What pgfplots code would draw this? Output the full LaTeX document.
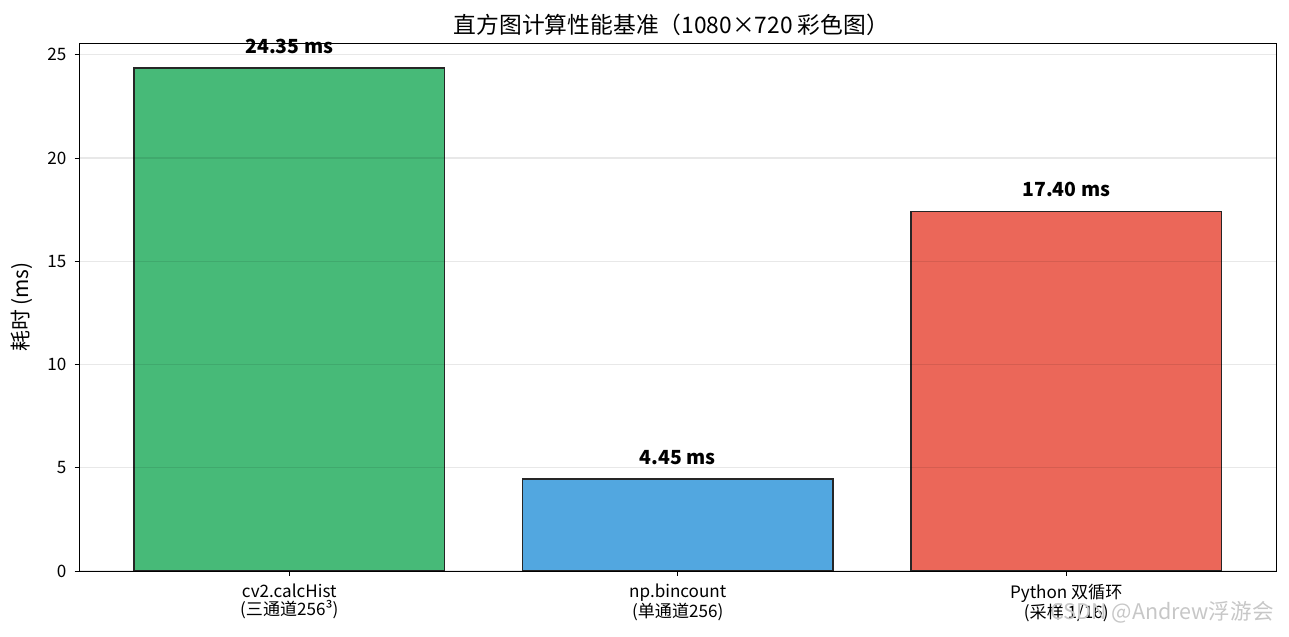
\documentclass[border=0pt]{standalone}
\usepackage{fontspec}
\setmainfont{Noto Sans CJK SC}
\usepackage{pgfplots}
\pgfplotsset{compat=1.18}
\definecolor{cg}{RGB}{71,186,120}
\definecolor{cb}{RGB}{82,167,224}
\definecolor{cr}{RGB}{235,103,89}
\begin{document}
\begin{tikzpicture}
\path[use as bounding box] (-57.24pt,-46.8pt) rectangle (870.84pt,411.12pt);
\begin{axis}[at={(0,0)}, anchor=south west,
  width=861.48pt, height=380.16pt, scale only axis,
  xmin=-0.54, xmax=2.54, ymin=0, ymax=25.5675,
  ytick={0,5,10,15,20,25},
  xtick={0,1,2},
  xticklabels={{cv2.calcHist\\(三通道256³)},{np.bincount\\(单通道256)},{Python 双循环\\(采样 1/16)}},
  xticklabel style={align=center, font=\fontsize{12.3}{13}\selectfont, yshift=-2.5pt},
  yticklabel style={font=\fontsize{12.3}{13}\selectfont, xshift=-2.5pt},
  /pgf/number format/assume math mode=true,
  tick align=outside, tick pos=left,
  major tick length=3.5pt,
  tick style={black, line width=0.65pt},
  axis line style={black, line width=0.65pt},
  ymajorgrids, grid style={black, opacity=0.09, line width=0.8pt},
  axis on top,
  nodes near coords={\pgfmathprintnumber[fixed,fixed zerofill,precision=2]{\pgfplotspointmeta}~ms},
  nodes near coords style={font=\bfseries\fontsize{14}{16}\selectfont, anchor=base, yshift=10.8pt, text=black},
  point meta=y,
]
\addplot[ybar, bar width=0.8, bar shift=0pt, fill=cg, draw=black!85, line width=1pt] coordinates {(0,24.35)};
\addplot[ybar, bar width=0.8, bar shift=0pt, fill=cb, draw=black!85, line width=1pt] coordinates {(1,4.45)};
\addplot[ybar, bar width=0.8, bar shift=0pt, fill=cr, draw=black!85, line width=1pt] coordinates {(2,17.40)};
\end{axis}
\node[font=\fontsize{16.4}{18}\selectfont] at (426.2pt,393.1pt) {直方图计算性能基准（1080×720 彩色图）};
\node[font=\fontsize{15}{17}\selectfont, rotate=90] at (-41.4pt,190.1pt) {耗时 (ms)};
\node[font=\fontsize{15.5}{17}\selectfont, text=black!22] at (779.4pt,-29.5pt) {CSDN @Andrew浮游会};
\end{tikzpicture}
\end{document}
